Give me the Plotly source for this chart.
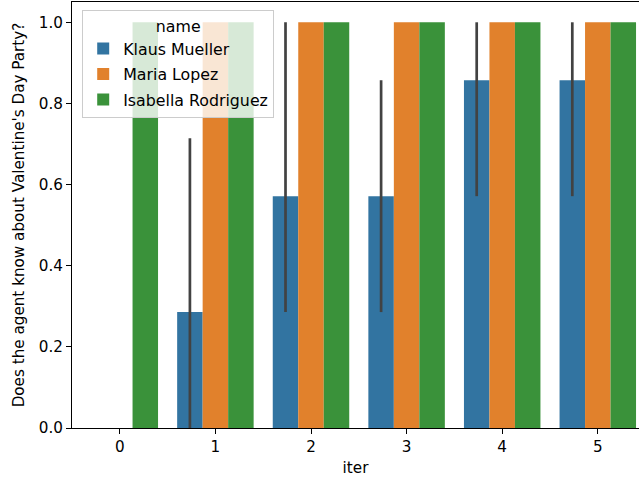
import plotly.graph_objects as go

iters = [0, 1, 2, 3, 4, 5]
names = ["Klaus Mueller", "Maria Lopez", "Isabella Rodriguez"]
colors = ["#3274a1", "#e1812c", "#3a923a"]

klaus = [0.0, 2/7, 4/7, 4/7, 6/7, 6/7]
maria = [0.0, 1.0, 1.0, 1.0, 1.0, 1.0]
isabella = [1.0, 1.0, 1.0, 1.0, 1.0, 1.0]

klaus_ci_low = [0.0, 0.0, 2/7, 2/7, 4/7, 4/7]
klaus_ci_high = [0.0, 5/7, 1.0, 6/7, 1.0, 1.0]

y_ticks = [0.0, 0.2, 0.4, 0.6, 0.8, 1.0]

FONT = "DejaVu Sans"
FS = 15.2
LFS = 15.8

fig = go.Figure()
series = [klaus, maria, isabella]
for i, (nm, vals) in enumerate(zip(names, series)):
    kw = {}
    if i == 0:
        kw["error_y"] = dict(
            type="data",
            symmetric=False,
            array=[h - v for h, v in zip(klaus_ci_high, vals)],
            arrayminus=[v - l for v, l in zip(vals, klaus_ci_low)],
            color="#424242",
            thickness=2.7,
            width=0,
        )
    fig.add_trace(go.Bar(
        x=iters, y=vals, name=nm, legendgroup=nm,
        marker=dict(color=colors[i], line=dict(width=0)),
        hoverinfo="skip", **kw,
    ))

fig.update_layout(
    width=639, height=479,
    margin=dict(l=72, r=0, t=2, b=51),
    paper_bgcolor="white", plot_bgcolor="white",
    barmode="group", bargap=0.2, bargroupgap=0,
    font=dict(family=FONT, size=FS, color="black"),
    legend=dict(
        title=dict(text="name", side="top center", font=dict(size=LFS)),
        x=0.018, y=0.981, xanchor="left", yanchor="top",
        bgcolor="rgba(255,255,255,0.8)", bordercolor="#cccccc", borderwidth=1,
        font=dict(size=LFS),
        itemwidth=30, tracegroupgap=2,
    ),
    showlegend=True,
)
fig.update_xaxes(
    range=[-0.5, 5.431], tickvals=iters, ticktext=[str(v) for v in iters],
    showline=True, linecolor="black", linewidth=1, mirror=True,
    ticks="outside", ticklen=5, tickcolor="black", tickwidth=1,
    showgrid=False, zeroline=False, automargin=False,
    title=dict(text="iter", standoff=7, font=dict(size=FS)),
)
fig.update_yaxes(
    range=[0, 1.05], tickvals=y_ticks, ticktext=[f"{v:.1f}" for v in y_ticks],
    showline=True, linecolor="black", linewidth=1,
    ticks="outside", ticklen=5, tickcolor="black", tickwidth=1,
    showgrid=False, zeroline=False, automargin=False,
    title=dict(text="Does the agent know about Valentine's Day Party?", standoff=10, font=dict(size=FS)),
)

fig.write_html(
    "out.html",
    config={"displayModeBar": False, "staticPlot": True},
    post_script="document.body.style.margin='0';document.body.style.overflow='hidden';",
)
